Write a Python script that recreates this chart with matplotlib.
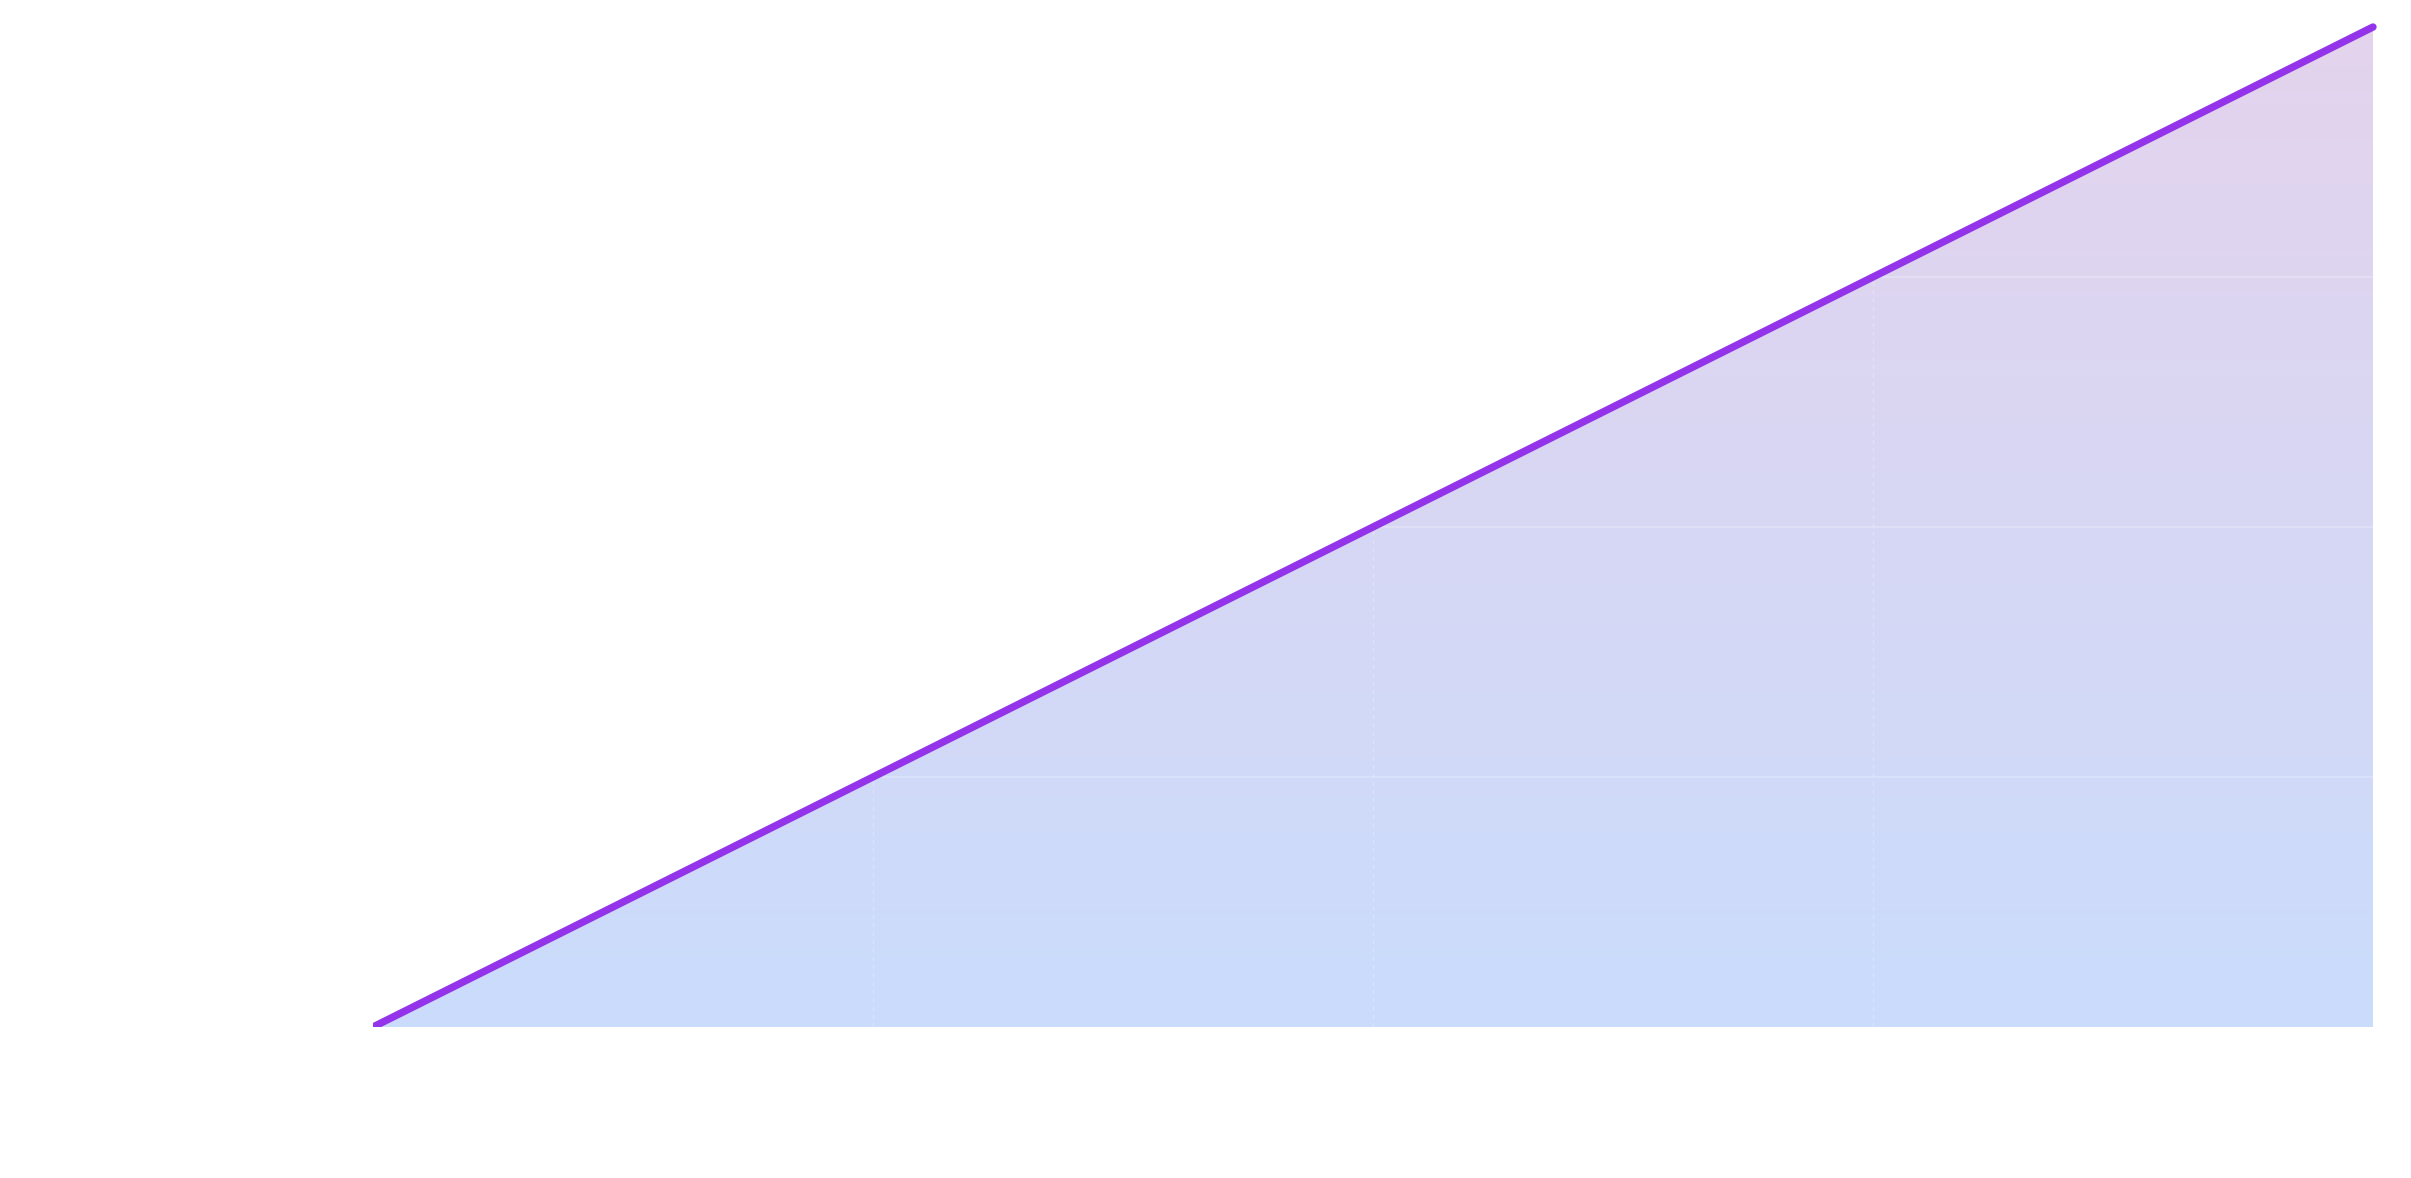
import matplotlib
matplotlib.use("Agg")
import matplotlib.pyplot as plt
import numpy as np
from matplotlib.colors import LinearSegmentedColormap
from matplotlib.transforms import Bbox, TransformedBbox

# data
categories = ["P1", "P2", "P3", "P4", "P5"]
values = [0, 25, 50, 75, 100]

line_color = "#9333ea"
fill_top = "#e4d3ed"
fill_bottom = "#cadcfc"

W, H = 2411, 1178
fig = plt.figure(figsize=(W / 100, H / 100), dpi=100)
fig.patch.set_facecolor("white")
left, right = 373 / W, 2373 / W
bottom, top_px = 1027, 14
ax = fig.add_axes([left, (H - bottom) / H, right - left, (bottom - top_px) / H])

x = np.arange(len(categories))
ymax = 100 * (1027 - 14) / 1000
ax.set_xlim(0, len(categories) - 1)
ax.set_ylim(0, ymax)

# gradient fill under line
poly = ax.fill_between(x, values, 0, color="none", lw=0)
cmap = LinearSegmentedColormap.from_list("g", [fill_bottom, fill_top])
grad = np.linspace(0, 1, 256).reshape(-1, 1)
im = ax.imshow(grad, cmap=cmap, origin="lower", aspect="auto",
               extent=[0, len(categories) - 1, 0, max(values)], zorder=1)
path = poly.get_paths()[0]
im.set_clip_path(path, transform=ax.transData)

# grid lines (white, faint) drawn over fill
for yv in values[1:]:
    ax.axhline(yv, color="white", lw=1.2, alpha=0.25, zorder=2)
for xv in x[1:-1]:
    ax.axvline(xv, color="white", lw=1.0, alpha=0.25, ls=(0, (3, 3)), zorder=2)

ln, = ax.plot(x, values, color=line_color, lw=5.3, solid_capstyle="round", zorder=3)
ln.set_clip_box(TransformedBbox(Bbox([[0, 0], [1.02, 1.05]]), ax.transAxes))

for s in ax.spines.values():
    s.set_visible(False)
ax.set_xticks([])
ax.set_yticks([])
ax.set_facecolor("none")

fig.savefig("out.png", dpi=100, facecolor="white")
